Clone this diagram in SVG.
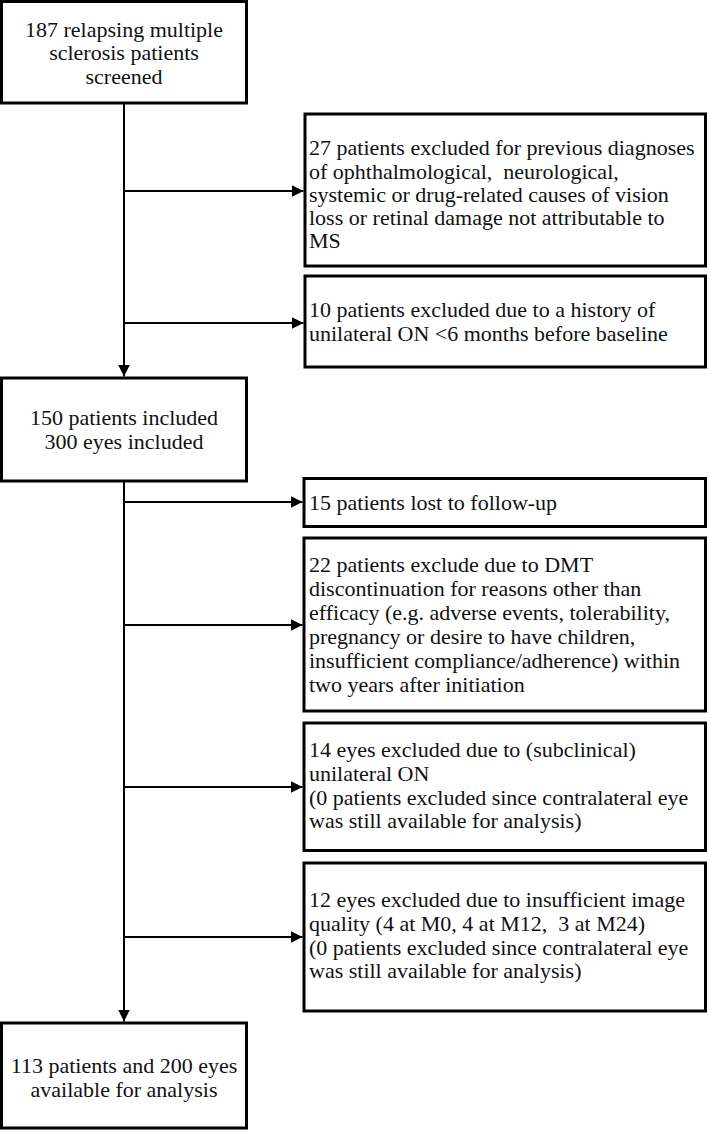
<svg xmlns="http://www.w3.org/2000/svg" width="709" height="1132" viewBox="0 0 709 1132">
<style>
.box{fill:#fff;stroke:#000;stroke-width:3}
.t{font-family:"Liberation Serif","Times New Roman",serif;font-size:22px;fill:#111}
.c{text-anchor:middle}
.ln{stroke:#000;stroke-width:2;fill:none}
</style>
<defs>
<marker id="ah" markerUnits="userSpaceOnUse" markerWidth="12" markerHeight="12" refX="12" refY="6" orient="auto">
<path d="M0,0 L12,6 L0,12 z" fill="#000"/>
</marker>
</defs>
<g id="connectors">
<line class="ln" x1="124" y1="104" x2="124" y2="376.5" marker-end="url(#ah)"/>
<line class="ln" x1="124" y1="191" x2="303.5" y2="191" marker-end="url(#ah)"/>
<line class="ln" x1="124" y1="323" x2="303.5" y2="323" marker-end="url(#ah)"/>
<line class="ln" x1="124" y1="482" x2="124" y2="1021.5" marker-end="url(#ah)"/>
<line class="ln" x1="124" y1="502" x2="302.5" y2="502" marker-end="url(#ah)"/>
<line class="ln" x1="124" y1="625" x2="302.5" y2="625" marker-end="url(#ah)"/>
<line class="ln" x1="124" y1="787" x2="302.5" y2="787" marker-end="url(#ah)"/>
<line class="ln" x1="124" y1="937" x2="302.5" y2="937" marker-end="url(#ah)"/>
</g>
<g id="n1">
<rect class="box" x="1.5" y="1.5" width="245" height="101.5"/>
<text class="t c" x="124" y="36.5">187 relapsing multiple</text>
<text class="t c" x="124" y="60">sclerosis patients</text>
<text class="t c" x="124" y="83.5">screened</text>
</g>
<g id="n2">
<rect class="box" x="305" y="114" width="400.5" height="152"/>
<text class="t" x="309" y="155">27 patients excluded for previous diagnoses</text>
<text class="t" x="309" y="178.5" xml:space="preserve">of ophthalmological,  neurological,</text>
<text class="t" x="309" y="202">systemic or drug-related causes of vision</text>
<text class="t" x="309" y="225">loss or retinal damage not attributable to</text>
<text class="t" x="309" y="248">MS</text>
</g>
<g id="n3">
<rect class="box" x="305" y="276" width="400.5" height="91"/>
<text class="t" x="309" y="317">10 patients excluded due to a history of</text>
<text class="t" x="309" y="341">unilateral ON &lt;6 months before baseline</text>
</g>
<g id="n4">
<rect class="box" x="1.5" y="378" width="245" height="103"/>
<text class="t c" x="124" y="425">150 patients included</text>
<text class="t c" x="124" y="448.5">300 eyes included</text>
</g>
<g id="n5">
<rect class="box" x="304" y="478.5" width="401.5" height="48"/>
<text class="t" x="309" y="510">15 patients lost to follow-up</text>
</g>
<g id="n6">
<rect class="box" x="304" y="538" width="401.5" height="173"/>
<text class="t" x="309" y="572">22 patients exclude due to DMT</text>
<text class="t" x="309" y="596">discontinuation for reasons other than</text>
<text class="t" x="309" y="620">efficacy (e.g. adverse events, tolerability,</text>
<text class="t" x="309" y="644">pregnancy or desire to have children,</text>
<text class="t" x="309" y="668">insufficient compliance/adherence) within</text>
<text class="t" x="309" y="692">two years after initiation</text>
</g>
<g id="n7">
<rect class="box" x="304" y="723" width="401.5" height="127.5"/>
<text class="t" x="309" y="757">14 eyes excluded due to (subclinical)</text>
<text class="t" x="309" y="780.5">unilateral ON</text>
<text class="t" x="309" y="804.5">(0 patients excluded since contralateral eye</text>
<text class="t" x="309" y="828">was still available for analysis)</text>
</g>
<g id="n8">
<rect class="box" x="304" y="863" width="401.5" height="148"/>
<text class="t" x="309" y="907">12 eyes excluded due to insufficient image</text>
<text class="t" x="309" y="930.5" xml:space="preserve">quality (4 at M0, 4 at M12,  3 at M24)</text>
<text class="t" x="309" y="954.5">(0 patients excluded since contralateral eye</text>
<text class="t" x="309" y="978">was still available for analysis)</text>
</g>
<g id="n9">
<rect class="box" x="1.5" y="1023" width="245" height="105"/>
<text class="t c" x="124" y="1073">113 patients and 200 eyes</text>
<text class="t c" x="124" y="1096.5">available for analysis</text>
</g>
</svg>
